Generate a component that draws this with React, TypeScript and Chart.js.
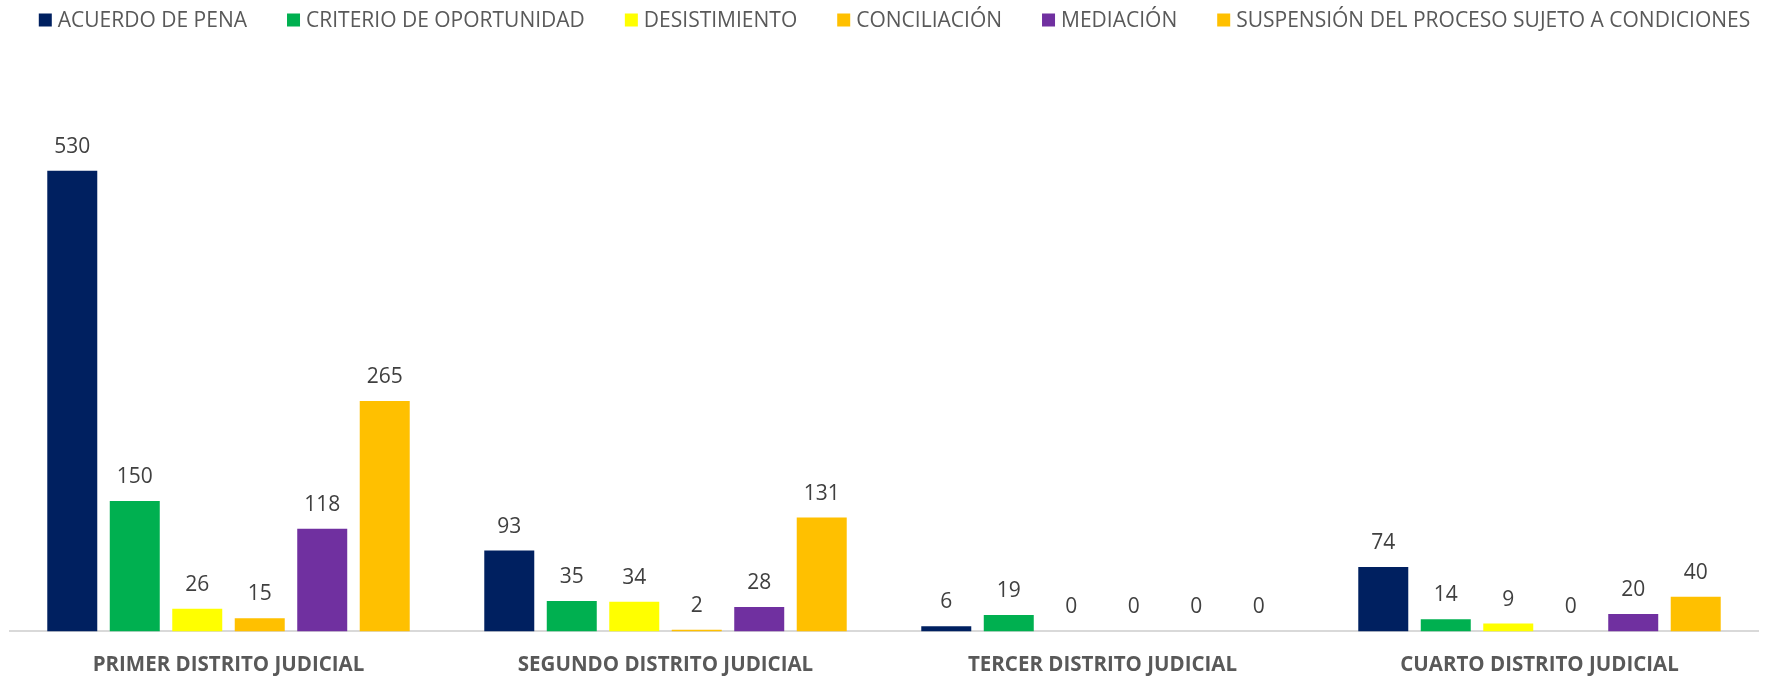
import React, { useEffect, useRef } from "react";
import { Chart, registerables } from "chart.js";

Chart.register(...registerables);

const categories = [
  "PRIMER DISTRITO JUDICIAL",
  "SEGUNDO DISTRITO JUDICIAL",
  "TERCER DISTRITO JUDICIAL",
  "CUARTO DISTRITO JUDICIAL",
];

const seriesNames = [
  "ACUERDO DE PENA",
  "CRITERIO DE OPORTUNIDAD",
  "DESISTIMIENTO",
  "CONCILIACIÓN",
  "MEDIACIÓN",
  "SUSPENSIÓN DEL PROCESO SUJETO A CONDICIONES",
];

const acuerdoDePena = [530, 93, 6, 74];
const criterioDeOportunidad = [150, 35, 19, 14];
const desistimiento = [26, 34, 0, 9];
const conciliacion = [15, 2, 0, 0];
const mediacion = [118, 28, 0, 20];
const suspension = [265, 131, 0, 40];

const seriesColors = ["#002060", "#00B050", "#FFFF00", "#FFC000", "#7030A0", "#FFC000"];

const FONT = "'Open Sans', 'Noto Sans', sans-serif";

const valueLabels = {
  id: "valueLabels",
  afterDatasetsDraw(chart: any) {
    const ctx = chart.ctx;
    ctx.save();
    ctx.font = `21px ${FONT}`;
    ctx.fillStyle = "#404040";
    ctx.textAlign = "center";
    ctx.textBaseline = "middle";
    chart.data.datasets.forEach((ds: any, i: number) => {
      const meta = chart.getDatasetMeta(i);
      meta.data.forEach((el: any, j: number) => {
        ctx.fillText(String(ds.data[j]), el.x, el.y - 24);
      });
    });
    ctx.restore();
  },
};

const customLegend = {
  id: "customLegend",
  afterDraw(chart: any) {
    const ctx = chart.ctx;
    ctx.save();
    ctx.font = `21px ${FONT}`;
    ctx.textBaseline = "middle";
    ctx.textAlign = "left";
    const box = 13;
    const gapText = 6;
    const gapItem = 40;
    const widths = chart.data.datasets.map(
      (ds: any) => box + gapText + ctx.measureText(ds.label).width
    );
    const total = widths.reduce((a: number, b: number) => a + b, 0) + gapItem * (widths.length - 1);
    let x = 894.5 - total / 2;
    const cy = 20;
    chart.data.datasets.forEach((ds: any, i: number) => {
      ctx.fillStyle = ds.backgroundColor;
      ctx.fillRect(x, cy - box / 2, box, box);
      ctx.fillStyle = "#595959";
      ctx.fillText(ds.label, x + box + gapText, cy + 1);
      x += widths[i] + gapItem;
    });
    ctx.restore();
  },
};

export default function App() {
  const ref = useRef<HTMLCanvasElement | null>(null);

  useEffect(() => {
    if (!ref.current) return;
    const seriesData = [
      acuerdoDePena,
      criterioDeOportunidad,
      desistimiento,
      conciliacion,
      mediacion,
      suspension,
    ];
    const chart = new Chart(ref.current, {
      type: "bar",
      data: {
        labels: categories,
        datasets: seriesNames.map((name, i) => ({
          label: name,
          data: seriesData[i],
          backgroundColor: seriesColors[i],
          borderWidth: 0,
          categoryPercentage: 0.858,
          barPercentage: 0.8,
        })),
      },
      options: {
        animation: false,
        responsive: false,
        maintainAspectRatio: false,
        layout: { padding: { top: 110, left: 10, right: 13, bottom: -20 } },
        plugins: {
          legend: { display: false },
          tooltip: { enabled: false },
        },
        scales: {
          x: {
            grid: { display: false, drawTicks: false },
            border: { display: true, color: "#D9D9D9", width: 2 },
            ticks: {
              padding: 21,
              color: "#595959",
              font: { family: FONT, size: 20.5, weight: "bold" },
            },
          },
          y: {
            display: false,
            min: 0,
            max: 600,
          },
        },
      },
      plugins: [valueLabels, customLegend],
    });
    return () => chart.destroy();
  }, []);

  return (
    <div style={{ position: "absolute", left: 0, top: 0, width: 1771, height: 678, background: "#fff", overflow: "hidden" }}>
      <canvas ref={ref} width={1771} height={678} style={{ width: 1771, height: 678, display: "block" }} />
    </div>
  );
}
